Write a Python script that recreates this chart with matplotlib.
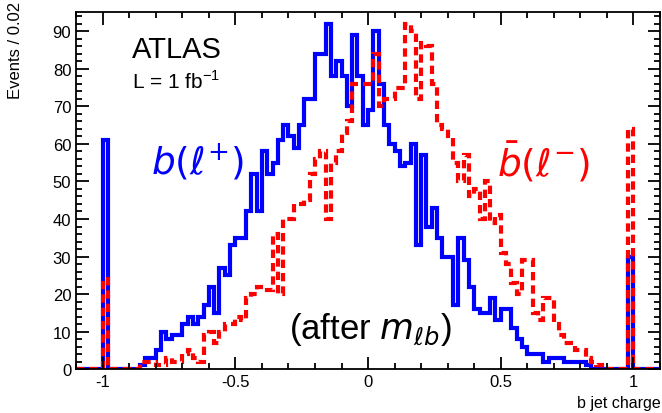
import numpy as np
import matplotlib.pyplot as plt
from matplotlib.ticker import MultipleLocator

plt.rcParams['font.family'] = ['Liberation Sans', 'DejaVu Sans']
plt.rcParams['mathtext.fontset'] = 'dejavusans'

# bins of 0.02 from -1 to 1 (index 0 is the underflow spike at -1, index 99 the overflow at +1)
blue_counts = [61, 0, 0, 0, 0, 0, 0, 1, 3, 3,
               5, 10, 8, 9, 9, 12, 14, 12, 14, 17,
               22, 15, 27, 25, 33, 35, 35, 42, 52, 42,
               58, 52, 55, 61, 65, 62, 59, 65, 72, 72,
               84, 84, 92, 78, 82, 78, 70, 89, 78, 65,
               69, 90, 76, 65, 60, 58, 54, 55, 60, 33,
               57, 38, 43, 35, 30, 30, 17, 35, 29, 22,
               16, 15, 15, 19, 13, 16, 16, 11, 8, 6,
               4, 4, 4, 2, 3, 3, 3, 2, 2, 2,
               2, 1, 0, 0, 0, 0, 0, 0, 0, 30]
red_counts = [24, 0, 0, 0, 0, 0, 0, 2, 2, 2,
              1, 1, 3, 2, 2, 4, 5, 3, 2, 9,
              10, 7, 10, 12, 12, 14, 13, 19, 20, 22,
              22, 21, 36, 20, 40, 40, 44, 44, 45, 52,
              56, 58, 40, 55, 58, 63, 66, 76, 76, 76,
              76, 84, 70, 72, 72, 75, 75, 92, 90, 72,
              87, 86, 76, 65, 64, 62, 55, 50, 57, 46,
              48, 40, 50, 39, 41, 31, 28, 23, 20, 29,
              29, 15, 13, 19, 19, 12, 9, 7, 7, 5,
              5, 3, 2, 1, 0, 0, 0, 0, 0, 64]

edges = np.round(np.arange(-1.1, 1.1001, 0.02), 2)
pad = [0] * 5
blue = np.array(pad + blue_counts + pad, dtype=float)
red = np.array(pad + red_counts + pad, dtype=float)

fig = plt.figure(figsize=(6.62, 4.14), dpi=100)
ax = fig.add_axes([0.115, 0.106, 0.882, 0.863])

ax.stairs(blue, edges, color='#0000ff', lw=3.0)
ax.stairs(red, edges, color='#ff0000', lw=3.0, linestyle=(0, (2.0, 1.2)))

ax.set_xlim(-1.1, 1.1)
ax.set_ylim(0, 95.2)

ax.xaxis.set_major_locator(MultipleLocator(0.5))
ax.xaxis.set_minor_locator(MultipleLocator(0.1))
ax.yaxis.set_major_locator(MultipleLocator(10))
ax.yaxis.set_minor_locator(MultipleLocator(2))
ax.tick_params(which='both', direction='in', top=True, right=True, labelsize=12, width=1.3)
ax.tick_params(which='major', length=9)
ax.tick_params(which='minor', length=4.5)
ax.set_xticks([-1, -0.5, 0, 0.5, 1])
ax.set_xticklabels(['-1', '-0.5', '0', '0.5', '1'])
for s in ax.spines.values():
    s.set_linewidth(1.3)

fig.text(0.998, 0.008, 'b jet charge', ha='right', va='bottom', fontsize=11.5)
fig.text(0.012, 0.995, 'Events / 0.02', rotation=90, ha='left', va='top', fontsize=12)

fig.text(132 / 662, 1 - 58 / 414, 'ATLAS', fontsize=21, ha='left', va='baseline')
fig.text(132 / 662, 1 - 89 / 414, 'L = 1 fb$^{\\mathregular{-1}}$', fontsize=15, ha='left', va='baseline')
fig.text(198 / 662, 1 - 162 / 414, r'$b(\ell^{+})$', fontsize=27, color='#0000ff', ha='center', va='center')
fig.text(544 / 662, 1 - 162 / 414, r'$\bar{b}(\ell^{-})$', fontsize=27, color='#ff0000', ha='center', va='center')
fig.text(370 / 662, 1 - 330 / 414, r'(after $m_{\ell b}$)', fontsize=25, ha='center', va='center')

fig.savefig('out.png', dpi=100)
